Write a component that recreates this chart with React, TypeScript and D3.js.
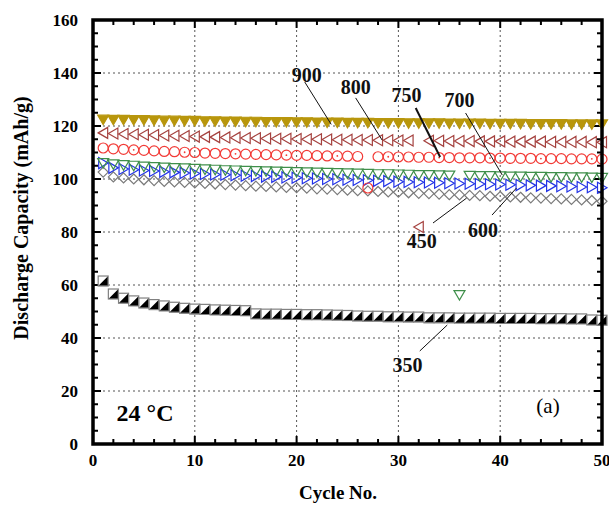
import React, { useRef, useEffect } from 'react'
import * as d3 from 'd3'

// cycle numbers 1..50
const cycles = d3.range(1, 51)

// discharge capacity (mAh/g) per cycle, one list per calcination temperature
const cap900 = [122.4, 122.3, 122.3, 122.2, 122.2, 122.1, 122.0, 122.0, 121.9, 121.9, 121.8, 121.8, 121.7, 121.7, 121.6, 121.6, 121.5, 121.5, 121.5, 121.4, 121.4, 121.3, 121.3, 121.3, 121.2, 121.2, 121.2, 121.1, 121.1, 121.1, 121.0, 121.0, 121.0, 121.0, 120.9, 120.9, 120.9, 120.9, 120.8, 120.8, 120.8, 120.8, 120.7, 120.7, 120.7, 120.7, 120.6, 120.6, 120.6, 120.6]
const cap800 = [117.4, 117.2, 117.0, 116.9, 116.7, 116.6, 116.4, 116.3, 116.2, 116.0, 115.9, 115.8, 115.7, 115.6, 115.5, 115.4, 115.3, 115.2, 115.2, 115.1, 115.0, 115.0, 114.9, 114.8, 114.8, 114.7, 114.7, 114.6, 114.6, 114.5, 114.5, 81.9, 114.4, 114.4, 114.3, 114.3, 114.3, 114.2, 114.2, 114.2, 114.1, 114.1, 114.1, 114.1, 114.0, 114.0, 114.0, 114.0, 113.9, 113.9]
const cap750 = [111.7, 111.4, 111.2, 111.0, 110.8, 110.6, 110.4, 110.3, 110.1, 110.0, 109.8, 109.7, 109.6, 109.5, 109.4, 109.3, 109.2, 109.1, 109.0, 108.9, 108.9, 108.8, 108.7, 108.7, 108.6, 108.5, 96.6, 108.4, 108.4, 108.3, 108.3, 108.2, 108.2, 108.1, 108.1, 108.0, 108.0, 108.0, 107.9, 107.9, 107.8, 107.8, 107.8, 107.7, 107.7, 107.7, 107.6, 107.6, 107.6, 107.5]
const cap700 = [106.0, 105.5, 105.2, 105.0, 104.7, 104.5, 104.3, 104.1, 104.0, 103.8, 103.6, 103.5, 103.3, 103.2, 103.1, 103.0, 102.9, 102.8, 102.7, 102.6, 102.5, 102.4, 102.3, 102.2, 102.1, 102.0, 101.9, 101.8, 101.8, 101.7, 101.6, 101.5, 101.5, 101.4, 101.3, 56.2, 101.2, 101.1, 101.1, 101.0, 100.9, 100.9, 100.8, 100.8, 100.7, 100.7, 100.6, 100.6, 100.5, 100.4]
const cap600 = [106.0, 104.2, 103.8, 103.5, 103.2, 103.0, 102.7, 102.5, 102.3, 102.1, 101.9, 101.7, 101.6, 101.4, 101.2, 101.1, 100.9, 100.8, 100.6, 100.5, 100.3, 100.2, 100.0, 99.9, 99.7, 99.6, 99.5, 99.3, 99.2, 99.0, 98.9, 98.8, 98.7, 98.6, 98.4, 98.3, 98.2, 98.1, 98.0, 97.9, 97.8, 97.7, 97.6, 97.5, 97.4, 97.3, 97.2, 97.0, 96.9, 96.7]
const cap450 = [102.6, 100.8, 100.4, 100.0, 99.7, 99.4, 99.1, 98.9, 98.7, 98.5, 98.3, 98.1, 97.9, 97.7, 97.5, 97.3, 97.2, 97.0, 96.8, 96.7, 96.5, 96.3, 96.2, 96.0, 95.8, 95.6, 95.5, 95.3, 95.1, 95.0, 94.8, 94.6, 94.5, 94.3, 94.1, 94.0, 93.8, 93.7, 93.5, 93.4, 93.2, 93.1, 92.9, 92.8, 92.6, 92.5, 92.3, 92.1, 91.9, 91.6]
const cap350 = [61.5, 56.6, 55.0, 54.0, 53.2, 52.6, 52.1, 51.6, 51.2, 50.9, 50.8, 50.6, 50.5, 50.4, 50.3, 49.1, 49.0, 49.0, 48.9, 48.9, 48.8, 48.8, 48.7, 48.6, 48.5, 48.3, 48.2, 48.2, 48.0, 48.0, 47.9, 47.9, 47.6, 47.6, 47.6, 47.5, 47.5, 47.5, 47.5, 47.4, 47.4, 47.4, 47.4, 47.3, 47.3, 47.3, 47.2, 47.2, 46.8, 46.7]

const xTicks = [0, 10, 20, 30, 40, 50]
const yTicks = [0, 20, 40, 60, 80, 100, 120, 140, 160]

// callout labels: text position and leader line, in data units (cycle, capacity)
const callouts = [
  { text: '900', x: 21.0, y: 139.2, x1: 20.8, y1: 136.6, x2: 23.4, y2: 120.6, w: 1 },
  { text: '800', x: 25.8, y: 134.7, x1: 25.8, y1: 130.6, x2: 28.4, y2: 114.7, w: 1 },
  { text: '750', x: 30.8, y: 131.7, x1: 31.7, y1: 126.8, x2: 34.1, y2: 108.3, w: 2 },
  { text: '700', x: 36.0, y: 129.8, x1: 36.6, y1: 124.9, x2: 40.2, y2: 101.5, w: 1 },
  { text: '450', x: 32.3, y: 76.6, x1: 33.4, y1: 83.4, x2: 36.7, y2: 92.8, w: 1 },
  { text: '600', x: 38.3, y: 80.8, x1: 39.2, y1: 86.4, x2: 41.6, y2: 96.6, w: 1 },
  { text: '350', x: 30.9, y: 29.8, x1: 32.1, y1: 35.1, x2: 34.8, y2: 44.9, w: 1 },
]

const series = [
  { name: '350', values: cap350, shape: 'halfsquare', color: '#808080' },
  { name: '450', values: cap450, shape: 'diamond', color: '#7a7a7a' },
  { name: '600', values: cap600, shape: 'right', color: '#2233e6' },
  { name: '700', values: cap700, shape: 'down', color: '#3f8f4a' },
  { name: '750', values: cap750, shape: 'circle', color: '#f23a36' },
  { name: '800', values: cap800, shape: 'left', color: '#a5423f' },
  { name: '900', values: cap900, shape: 'downfill', color: '#b8960c' },
]

const FONT = '"Liberation Serif", "Times New Roman", serif'

function shapePath(shape: string) {
  switch (shape) {
    case 'down':
    case 'downfill':
      return 'M-5.5,-4.5L5.5,-4.5L0,5Z'
    case 'left':
      return 'M-5,0L4.5,-5.5L4.5,5.5Z'
    case 'right':
      return 'M5,0L-4.5,-5.5L-4.5,5.5Z'
    case 'diamond':
      return 'M0,-5L5,0L0,5L-5,0Z'
    default:
      return ''
  }
}

export default function App() {
  const svgRef = useRef<SVGSVGElement>(null)

  useEffect(() => {
    const svg = d3.select(svgRef.current)
    svg.selectAll('*').remove()

    const width = 609, height = 506
    const left = 93, right = 602, top = 20, bottom = 444

    const x = d3.scaleLinear().domain([0, 50]).range([left, right])
    const y = d3.scaleLinear().domain([0, 160]).range([bottom, top])

    svg.append('rect').attr('width', width).attr('height', height).attr('fill', '#fff')

    // dotted grid
    const grid = svg.append('g').attr('stroke', '#555').attr('stroke-width', 1).attr('stroke-dasharray', '2 3')
    xTicks.filter(d => d > 0 && d < 50).forEach(d => {
      grid.append('line').attr('x1', x(d)).attr('x2', x(d)).attr('y1', top).attr('y2', bottom)
    })
    yTicks.filter(d => d > 0 && d < 160).forEach(d => {
      grid.append('line').attr('x1', left).attr('x2', right).attr('y1', y(d)).attr('y2', y(d))
    })

    // inward ticks on all four sides
    const ticks = svg.append('g').attr('stroke', '#000').attr('stroke-width', 2)
    d3.range(0, 51, 2).forEach(d => {
      const len = d % 10 === 0 ? 8 : 5
      ticks.append('line').attr('x1', x(d)).attr('x2', x(d)).attr('y1', bottom).attr('y2', bottom - len)
      ticks.append('line').attr('x1', x(d)).attr('x2', x(d)).attr('y1', top).attr('y2', top + len)
    })
    d3.range(0, 161, 5).forEach(d => {
      const len = d % 20 === 0 ? 8 : 5
      ticks.append('line').attr('x1', left).attr('x2', left + len).attr('y1', y(d)).attr('y2', y(d))
      ticks.append('line').attr('x1', right).attr('x2', right - len).attr('y1', y(d)).attr('y2', y(d))
    })

    // markers
    const plot = svg.append('g')
    series.forEach(s => {
      const g = plot.append('g')
      const pts = cycles.map((c, i) => ({ c, v: s.values[i], i }))
      if (s.shape === 'halfsquare') {
        const m = g.selectAll('g').data(pts).join('g')
          .attr('transform', d => `translate(${x(d.c)},${y(d.v)})`)
        m.append('rect').attr('x', -5).attr('y', -5).attr('width', 10).attr('height', 10)
          .attr('fill', '#fff').attr('stroke', s.color).attr('stroke-width', 1.2)
        m.append('path').attr('d', 'M-4.5,4.5L4.5,-4.5L4.5,4.5Z').attr('fill', '#000')
      } else if (s.shape === 'circle') {
        const m = g.selectAll('g').data(pts).join('g')
          .attr('transform', d => `translate(${x(d.c)},${y(d.v)})`)
        m.append('circle').attr('r', 5).attr('fill', 'none').attr('stroke', s.color).attr('stroke-width', 1.2)
        m.filter(d => d.i % 5 === 3).append('circle').attr('r', 0.9).attr('fill', s.color)
      } else {
        g.selectAll('path').data(pts).join('path')
          .attr('transform', d => `translate(${x(d.c)},${y(d.v)})`)
          .attr('d', shapePath(s.shape))
          .attr('fill', s.shape === 'downfill' ? s.color : 'none')
          .attr('stroke', s.color)
          .attr('stroke-width', 1.2)
      }
    })

    // frame
    svg.append('rect').attr('x', left).attr('y', top).attr('width', right - left).attr('height', bottom - top)
      .attr('fill', 'none').attr('stroke', '#000').attr('stroke-width', 3.5)

    // callouts
    callouts.forEach(c => {
      svg.append('line')
        .attr('x1', x(c.x1)).attr('y1', y(c.y1)).attr('x2', x(c.x2)).attr('y2', y(c.y2))
        .attr('stroke', '#111').attr('stroke-width', c.w)
      svg.append('text')
        .attr('x', x(c.x)).attr('y', y(c.y)).attr('dy', '0.35em')
        .attr('text-anchor', 'middle').attr('font-family', FONT).attr('font-weight', 'bold')
        .attr('font-size', '20px').attr('fill', '#111')
        .text(c.text)
    })

    svg.append('text').attr('x', 145).attr('y', 413).attr('dy', '0.35em')
      .attr('text-anchor', 'middle').attr('font-family', FONT).attr('font-weight', 'bold')
      .attr('font-size', '24px').text('24 °C')
    svg.append('text').attr('x', 548).attr('y', 406).attr('dy', '0.35em')
      .attr('text-anchor', 'middle').attr('font-family', FONT)
      .attr('font-size', '21px').text('(a)')

    // tick labels
    xTicks.forEach(d => {
      svg.append('text').attr('x', x(d)).attr('y', 460).attr('dy', '0.35em')
        .attr('text-anchor', 'middle').attr('font-family', FONT).attr('font-weight', 'bold')
        .attr('font-size', '17px').text(d)
    })
    yTicks.forEach(d => {
      svg.append('text').attr('x', 78).attr('y', y(d)).attr('dy', '0.35em')
        .attr('text-anchor', 'end').attr('font-family', FONT).attr('font-weight', 'bold')
        .attr('font-size', '17px').text(d)
    })

    // axis titles
    svg.append('text').attr('x', 338).attr('y', 499)
      .attr('text-anchor', 'middle').attr('font-family', FONT).attr('font-weight', 'bold')
      .attr('font-size', '19px').text('Cycle No.')
    svg.append('text').attr('transform', 'rotate(-90)')
      .attr('x', -218).attr('y', 28)
      .attr('text-anchor', 'middle').attr('font-family', FONT).attr('font-weight', 'bold')
      .attr('font-size', '20px').text('Discharge Capacity (mAh/g)')
  }, [])

  return <svg ref={svgRef} width={609} height={506} style={{ position: 'absolute', left: 0, top: 0 }} />
}
